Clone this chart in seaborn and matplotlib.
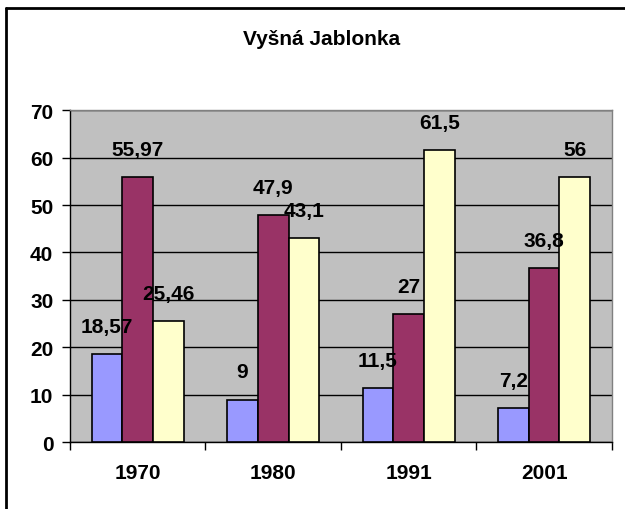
import seaborn as sns
import pandas as pd
import matplotlib.pyplot as plt
from matplotlib.lines import Line2D

years = ["1970", "1980", "1991", "2001"]
groups = ["predproduktívny", "produktívny", "poproduktívny"]
pre = [18.57, 9, 11.5, 7.2]
prod = [55.97, 47.9, 27, 36.8]
post = [25.46, 43.1, 61.5, 56]
colors = ["#9999FF", "#993366", "#FFFFCC"]

rows = []
for i, y in enumerate(years):
    for g, vals in zip(groups, [pre, prod, post]):
        rows.append({"rok": y, "skupina": g, "hodnota": vals[i]})
df = pd.DataFrame(rows)

sns.set_style("white")
plt.rcParams['font.family'] = ['Liberation Sans', 'DejaVu Sans']
plt.rcParams['font.weight'] = 'bold'
plt.rcParams['text.color'] = 'black'
plt.rcParams['xtick.color'] = 'black'
plt.rcParams['ytick.color'] = 'black'

fs = 15

fig = plt.figure(figsize=(6.25, 5.1), dpi=100)
ax = fig.add_axes([0.112, 0.131, 0.867, 0.651])
ax.set_facecolor("#C0C0C0")

sns.barplot(data=df, x="rok", y="hodnota", hue="skupina", palette=colors,
            saturation=1, width=0.68, gap=0, edgecolor="black", linewidth=1.2,
            legend=False, ax=ax, zorder=3)

for cont in ax.containers:
    labels = [("%g" % b.get_height()).replace(".", ",") for b in cont]
    ax.bar_label(cont, labels=labels, padding=13, fontsize=fs,
                 fontweight="bold", color="black", zorder=4)

ax.set_ylim(0, 70)
ax.set_xlim(-0.5, 3.5)
ax.set_yticks(range(0, 71, 10))
ax.yaxis.grid(True, color="black", linewidth=1, zorder=0)
ax.set_axisbelow(True)
ax.set_xlabel("")
ax.set_ylabel("")
ax.set_xticks([-0.5, 0.5, 1.5, 2.5, 3.5])
ax.set_xticklabels([])
ax.set_xticks(range(4), labels=years, minor=True)
ax.tick_params(axis="x", which="major", length=6, width=1, color="black", direction="out")
ax.tick_params(axis="x", which="minor", length=0, pad=15, labelsize=fs)
ax.tick_params(axis="y", length=6, width=1, color="black", direction="out",
               labelsize=fs, pad=6)
ax.tick_params(axis="both", bottom=True, left=True)
for lab in ax.get_xticklabels(minor=True) + ax.get_yticklabels():
    lab.set_fontweight("bold")

for s in ["left", "bottom"]:
    ax.spines[s].set_color("black")
    ax.spines[s].set_linewidth(1)
for s in ["top", "right"]:
    ax.spines[s].set_color("#808080")
    ax.spines[s].set_linewidth(1)

fig.text(0.515, 1 - 40 / 510, "Vyšná Jablonka", ha="center", va="center",
         fontsize=fs, fontweight="bold")

# outer chart border (only top and left edges visible in the crop)
top = 1 - 8.5 / 510
left = 5.5 / 625
fig.lines.append(Line2D([left, 1.1], [top, top], transform=fig.transFigure,
                        color="black", linewidth=2))
fig.lines.append(Line2D([left, left], [-0.1, top], transform=fig.transFigure,
                        color="black", linewidth=2))

plt.savefig("out.png", dpi=100)
